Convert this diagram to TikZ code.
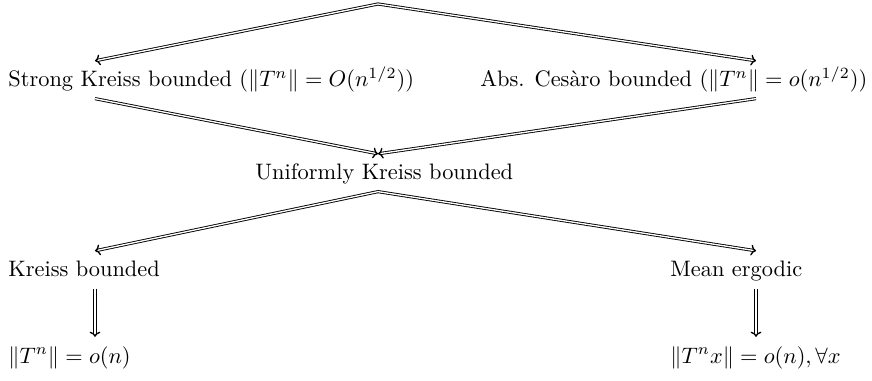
\documentclass[tikz,border=0pt]{standalone}
\usetikzlibrary{positioning, arrows.meta}
\tikzset{
  stmt/.style={anchor=base west, inner xsep=0pt, inner ysep=4pt, text height=7.5pt, text depth=1pt},
  imp/.style={-{To[length=2.3pt, width=4.8pt, line width=0.6pt]}, double, double distance=0.6pt}
}

\begin{document}
\begin{tikzpicture}[x=0.447pt, y=-0.447pt]
    \useasboundingbox (0,0) rectangle (872,381);
    % columns the arrows run along
    \coordinate (lcol) at (95,0);
    \coordinate (rcol) at (756,0);
    \coordinate (top) at (378,4);

    % first row
    \node[stmt] (sk) at (8,87) {Strong Kreiss bounded ($\|T^n\| = O(n^{1/2})$)};
    \node[stmt] (ac) at (480,87) {Abs. Ces\`aro bounded ($\|T^n\| = o(n^{1/2})$)};

    % middle
    \node[stmt] (uk) at (255,180) {Uniformly Kreiss bounded};

    % third row
    \node[stmt] (kb) at (8,277) {Kreiss bounded};
    \node[stmt] (me) at (670,277) {Mean ergodic};

    % last row
    \node[stmt] (kbo) at (8,363) {$\|T^n\| = o(n)$};
    \node[stmt] (meo) at (670,363) {$\|T^nx\| = o(n), \forall x$};

    \draw[imp] (top) -- (sk.north -| lcol);
    \draw[imp] (top) -- (ac.north -| rcol);
    \draw[imp] (sk.south -| lcol) -- (uk.north -| top);
    \draw[imp] (ac.south -| rcol) -- (uk.north -| top);
    \draw[imp] (uk.south -| top) -- (kb.north -| lcol);
    \draw[imp] (uk.south -| top) -- (me.north -| rcol);
    \draw[imp] (kb.south -| lcol) -- (kbo.north -| lcol);
    \draw[imp] (me.south -| rcol) -- (meo.north -| rcol);
\end{tikzpicture}
\end{document}
